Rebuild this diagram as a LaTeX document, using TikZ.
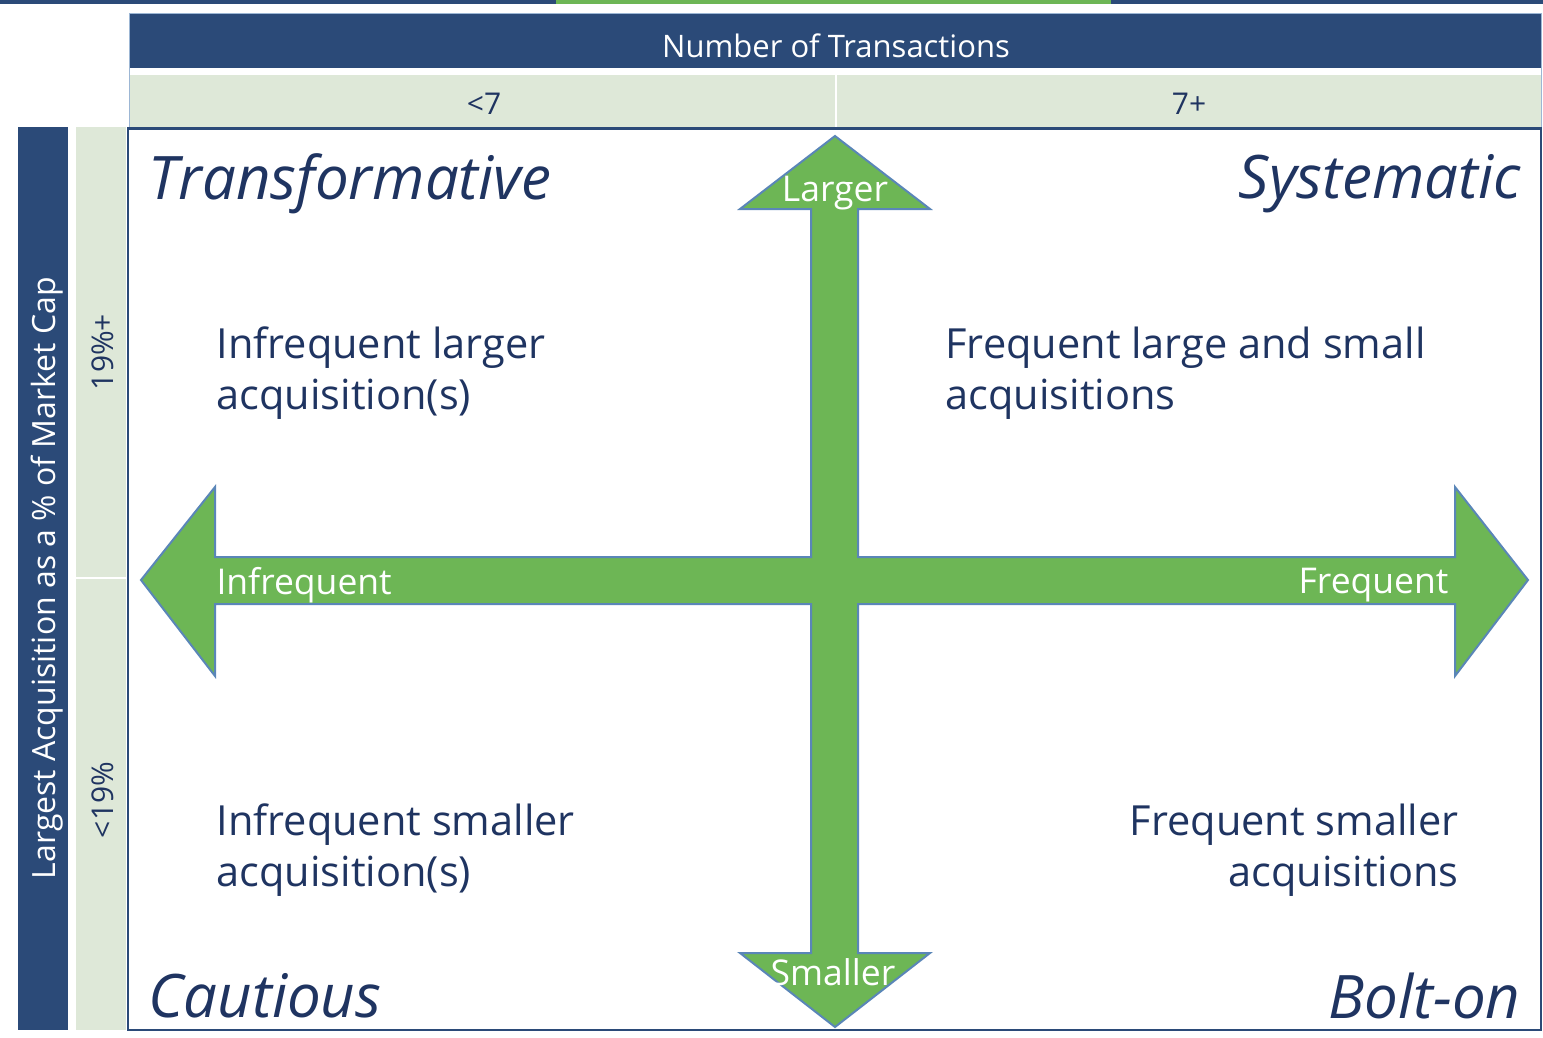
\documentclass[tikz,border=0pt]{standalone}
\usepackage{fontspec}
\setmainfont{Open Sans}
\definecolor{navy}{HTML}{2B4A78}
\definecolor{ink}{HTML}{1F3461}
\definecolor{pale}{HTML}{DEE8D8}
\definecolor{leaf}{HTML}{6DB655}
\definecolor{edge}{HTML}{5A86B8}
\tikzset{
  hdr/.style={text=white,font=\fontsize{31}{34}\selectfont},
  side/.style={text=white,font=\fontsize{32}{34}\selectfont},
  sub/.style={text=ink,font=\fontsize{30}{33}\selectfont},
  title/.style={text=ink,font=\fontsize{60}{64}\selectfont\itshape},
  body/.style={text=ink,font=\fontsize{41.5}{51}\selectfont,align=left},
  albl/.style={text=white,font=\fontsize{35.5}{38}\selectfont},
}
\begin{document}
\begin{tikzpicture}[x=1pt,y=-1pt]
\useasboundingbox (0,0) rectangle (1543,1037);
\fill[white] (0,0) rectangle (1543,1037);
% top strip
\fill[navy] (0,0) rectangle (556,4);
\fill[leaf] (556,0) rectangle (1111,4);
\fill[navy] (1111,0) rectangle (1543,4);
% header
\fill[navy] (129,14) rectangle (1541,68);
\fill[pale] (129,75) rectangle (1541,127);
\draw[white,line width=2pt] (836,75) -- (836,127);
\draw[edge!60,line width=1pt] (129.5,13) rectangle (1541.5,129);
\node[hdr] (ntx) at (836,46) {Number of Transactions};
\node[sub] (lt7) at (484,104) {<7};
\node[sub] (ge7) at (1189,104) {7+};
% left band
\fill[navy] (18,127) rectangle (68,1030);
\fill[pale] (76,127) rectangle (126,1030);
\draw[white,line width=2pt] (76,578) -- (126,578);
\node[side,rotate=90] (lam) at (47,578) {Largest Acquisition as a \% of Market Cap};
\node[sub,rotate=90] (p19) at (103,352) {19\%+};
\node[sub,rotate=90] (m19) at (103,800) {<19\%};
% main box
\draw[navy,line width=2pt] (128,128) rectangle (1541,1030);
\draw[navy,line width=3pt] (128,128) -- (1541,128);
% cross arrow
\draw[fill=leaf,draw=edge,line width=2pt,line join=miter]
  (835,136) -- (930,209) -- (858,209) -- (858,557) -- (1455,557) -- (1455,487)
  -- (1528,580) -- (1455,676) -- (1455,604) -- (858,604) -- (858,953)
  -- (930,953) -- (835,1027) -- (740,953) -- (811,953) -- (811,604)
  -- (215,604) -- (215,676) -- (141,580) -- (215,487) -- (215,557)
  -- (811,557) -- (811,209) -- (740,209) -- cycle;
\node[albl] (lg) at (835,193) {Larger};
\node[albl] (sm) at (833,972) {Smaller};
\node[albl,anchor=west] (inf) at (213,585) {Infrequent};
\node[albl,anchor=east] (frq) at (1452,585) {Frequent};
% quadrant titles
\node[title,anchor=west] (tr) at (145,184) {Transformative};
\node[title,anchor=east] (sy) at (1524,184) {Systematic};
\node[title,anchor=west] (ca) at (145,996) {Cautious};
\node[title,anchor=east] (bo) at (1524,996) {Bolt-on};
% bodies
\node[body,anchor=west] (q1) at (213,373) {Infrequent larger\\acquisition(s)};
\node[body,anchor=west] (q2) at (942,373) {Frequent large and small\\acquisitions};
\node[body,anchor=west] (q3) at (213,850) {Infrequent smaller\\acquisition(s)};
\node[body,anchor=east,align=right] (q4) at (1462,850) {Frequent smaller\\acquisitions};
\end{tikzpicture}
\end{document}
